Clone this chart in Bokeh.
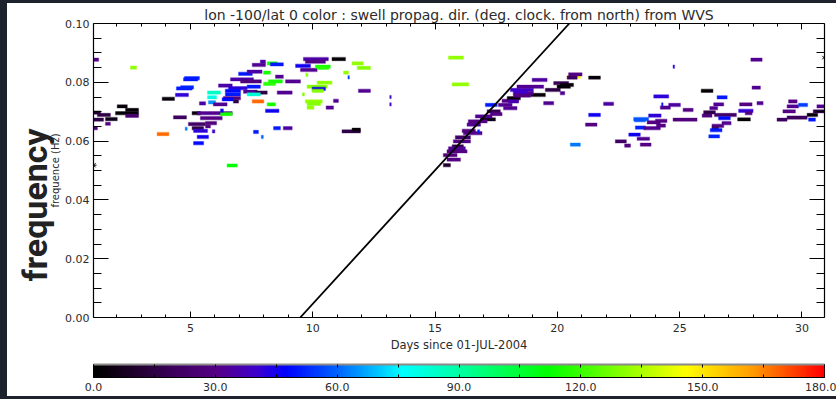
import numpy as np
from bokeh.plotting import figure
from bokeh.models import (LinearAxis, FixedTicker, Title, ColumnDataSource, LinearColorMapper,
                          Spacer, Range1d, PrintfTickFormatter, CustomLabelingPolicy)
from bokeh.layouts import column, row
from bokeh.transform import linear_cmap
from bokeh.embed import file_html
from bokeh.resources import INLINE

# ---------------- data ----------------
title_text = "lon -100/lat 0 color : swell propag. dir. (deg. clock. from north) from WVS"
x_label = "Days since 01-JUL-2004"
y_label = "frequence (Hz)"
big_label = "frequency"

x_major_ticks = [5, 10, 15, 20, 25, 30]
x_minor_ticks = [2, 3, 4, 6, 7, 8, 9, 11, 12, 13, 14, 16, 17, 18, 19, 21, 22, 23, 24, 26, 27, 28, 29]
y_major_ticks = [0.0, 0.02, 0.04, 0.06, 0.08, 0.10]
y_minor_ticks = [0.005, 0.01, 0.015, 0.025, 0.03, 0.035, 0.045, 0.05, 0.055,
                 0.065, 0.07, 0.075, 0.085, 0.09, 0.095]
cb_major_ticks = [0, 30, 60, 90, 120, 150, 180]
cb_minor_ticks = [15, 45, 75, 105, 135, 165]

# swell partitions: start day, end day, peak frequency (Hz), propagation direction (deg)
seg_start = [
    1.04, 2.55, 1.04, 1.20, 1.04, 1.53, 2.01, 1.94, 2.35, 2.35,
    1.53, 1.04, 3.64, 3.85, 4.31, 4.76, 4.72, 4.43, 4.60, 4.39,
    5.70, 5.70, 5.74, 5.37, 5.07, 5.28, 6.23, 5.41, 4.92, 5.62,
    5.07, 5.62, 5.13, 5.90, 4.79, 5.28, 5.13, 6.15, 5.94, 6.23,
    6.50, 9.62, 9.70, 10.79, 8.14, 8.27, 7.53, 7.86, 9.30, 9.50,
    10.11, 10.20, 11.61, 11.82, 11.26, 11.44, 9.72, 6.97, 7.32, 7.99,
    8.48, 6.64, 7.05, 8.19, 7.99, 8.89, 10.18, 6.56, 7.32, 9.77,
    9.98, 9.98, 6.43, 7.17, 7.66, 8.55, 6.43, 7.32, 9.58, 6.35,
    6.30, 6.76, 7.53, 9.70, 9.77, 9.77, 8.14, 10.85, 10.55, 8.07,
    8.40, 8.80, 7.58, 7.90, 11.20, 11.61, 11.87, 13.15, 13.15, 15.55,
    15.70, 15.34, 15.49, 15.34, 15.49, 15.70, 15.55, 15.75, 15.83, 16.16,
    16.74, 16.11, 16.31, 16.86, 16.36, 16.65, 17.13, 17.26, 17.59, 17.06,
    17.74, 17.95, 17.80, 18.08, 18.35, 18.90, 19.51, 19.85, 19.99, 18.97,
    19.44, 20.40, 20.40, 20.46, 21.28, 21.28, 21.15, 20.53, 18.61, 18.20,
    18.20, 18.00, 20.12, 20.12, 21.89, 22.37, 22.75, 22.92, 23.26, 23.39,
    23.12, 23.15, 23.19, 23.53, 23.73, 23.67, 24.01, 24.05, 23.94, 24.21,
    24.55, 24.26, 24.73, 24.73, 25.14, 25.88, 26.53, 26.39, 26.23, 25.98,
    25.92, 26.42, 26.59, 26.73, 26.32, 26.32, 26.25, 26.19, 27.45, 27.96,
    27.91, 28.16, 27.41, 27.68, 27.37, 28.98, 29.39, 29.22, 29.39, 29.45,
    29.86, 30.21, 30.27, 30.61, 30.46,
]
seg_end = [
    1.25, 2.80, 1.33, 1.73, 1.45, 2.01, 2.42, 2.88, 2.88, 2.88,
    1.73, 1.20, 4.12, 4.35, 4.84, 5.37, 5.30, 5.07, 5.13, 4.92,
    6.23, 6.07, 6.03, 5.62, 5.41, 6.71, 6.71, 6.30, 5.62, 6.07,
    5.54, 5.82, 5.70, 6.00, 4.87, 5.74, 5.54, 6.71, 6.50, 6.35,
    6.91, 10.64, 10.52, 11.34, 8.55, 8.80, 8.07, 8.07, 9.91, 10.18,
    10.72, 10.65, 12.07, 12.36, 11.46, 11.50, 9.80, 7.53, 7.93, 8.27,
    8.80, 7.58, 7.90, 8.76, 8.48, 9.50, 10.79, 7.32, 7.86, 10.59,
    10.52, 10.44, 7.05, 7.73, 8.14, 9.16, 7.05, 7.86, 9.66, 7.05,
    6.76, 6.97, 8.00, 10.39, 10.32, 10.05, 8.48, 11.05, 10.85, 8.62,
    8.68, 9.16, 7.78, 7.98, 11.95, 11.95, 12.36, 13.21, 13.21, 16.16,
    16.38, 15.63, 16.04, 15.90, 16.31, 16.16, 16.24, 16.45, 16.45, 16.92,
    16.82, 16.65, 16.86, 17.47, 17.13, 17.33, 17.67, 17.74, 18.15, 17.54,
    18.41, 18.49, 18.35, 19.02, 19.44, 19.51, 20.12, 20.46, 20.53, 19.58,
    19.85, 20.94, 20.81, 21.01, 21.76, 21.76, 21.62, 20.94, 19.02, 18.76,
    18.90, 18.41, 20.30, 20.66, 22.30, 22.82, 22.99, 23.39, 23.77, 23.83,
    23.73, 23.60, 23.60, 24.21, 24.24, 24.21, 24.48, 24.42, 24.55, 24.62,
    25.03, 24.32, 25.71, 24.79, 25.55, 26.36, 26.94, 26.80, 26.55, 26.46,
    26.32, 27.32, 27.07, 27.10, 26.80, 26.59, 26.73, 26.63, 27.96, 28.30,
    28.37, 28.41, 28.00, 27.96, 27.89, 29.39, 30.21, 29.73, 29.86, 29.80,
    30.23, 30.64, 30.55, 30.92, 30.92,
]
seg_freq = [
    .0877, .0850, .0697, .0689, .0673, .0675, .0718, .0695, .0706, .0686,
    .0659, .0644, .0624, .0744, .0681, .0814, .0810, .0779, .0783, .0757,
    .0765, .0749, .0732, .0728, .0695, .0695, .0692, .0678, .0658, .0661,
    .0644, .0650, .0635, .0633, .0642, .0614, .0593, .0789, .0725, .0704,
    .0517, .0879, .0870, .0879, .0864, .0861, .0859, .0870, .0856, .0842,
    .0853, .0849, .0864, .0849, .0833, .0817, .0825, .0829, .0836, .0833,
    .0819, .0810, .0803, .0803, .0795, .0803, .0799, .0780, .0785, .0785,
    .0778, .0771, .0771, .0768, .0765, .0765, .0759, .0759, .0759, .0746,
    .0742, .0735, .0735, .0735, .0727, .0714, .0725, .0737, .0714, .0703,
    .0644, .0644, .0631, .0614, .0633, .0639, .0771, .0750, .0725, .0884,
    .0793, .0518, .0537, .0552, .0565, .0582, .0575, .0599, .0613, .0627,
    .0633, .0635, .0656, .0674, .0667, .0684, .0701, .0692, .0723, .0723,
    .0737, .0746, .0712, .0774, .0785, .0757, .0774, .0797, .0785, .0808,
    .0729, .0819, .0816, .0827, .0816, .0689, .0656, .0588, .0763, .0766,
    .0755, .0735, .0763, .0791, .0727, .0599, .0585, .0622, .0608, .0588,
    .0675, .0671, .0646, .0644, .0687, .0664, .0669, .0653, .0752, .0714,
    .0723, .0725, .0673, .0853, .0706, .0771, .0749, .0725, .0712, .0698,
    .0687, .0689, .0678, .0661, .0652, .0642, .0637, .0616, .0725, .0782,
    .0877, .0729, .0703, .0695, .0674, .0673, .0680, .0701, .0718, .0735,
    .0723, .0689, .0673, .0718, .0701,
]
seg_dir = [
    30, 132, 10, 15, 15, 5, 3, 2, 2, 25,
    30, 30, 168, 3, 20, 52, 50, 50, 52, 42,
    85, 80, 65, 35, 3, 32, 115, 30, 22, 28,
    15, 30, 42, 40, 62, 45, 48, 35, 32, 45,
    112, 35, 30, 2, 115, 50, 32, 35, 45, 32,
    115, 118, 132, 130, 132, 55, 130, 50, 35, 115,
    32, 35, 28, 115, 118, 32, 132, 42, 50, 130,
    45, 130, 48, 32, 15, 32, 50, 82, 130, 30,
    48, 15, 168, 132, 130, 132, 115, 32, 32, 45,
    50, 34, 50, 60, 15, 3, 32, 40, 40, 132,
    132, 10, 30, 28, 30, 15, 32, 30, 22, 32,
    50, 28, 32, 5, 30, 32, 18, 30, 32, 50,
    30, 3, 32, 40, 32, 3, 15, 18, 2, 34,
    32, 145, 20, 30, 3, 45, 30, 62, 32, 40,
    30, 36, 32, 3, 34, 22, 30, 45, 32, 30,
    58, 58, 52, 32, 42, 30, 30, 30, 42, 32,
    34, 50, 28, 42, 30, 2, 50, 32, 32, 15,
    28, 22, 48, 32, 30, 15, 50, 52, 30, 32,
    32, 32, 42, 30, 2, 20, 20, 30, 32, 30,
    55, 3, 50, 32, 15,
]
assert len(seg_start) == len(seg_end) == len(seg_freq) == len(seg_dir)

# dispersion line (arrival of swell from a single source)
line_days = [9.49, 20.49]
line_freq = [0.0, 0.10]

# isolated marks on the frame edges
star_day = [1.04]
star_freq = [0.0518]
cross_day = [30.90]
cross_freq = [0.0884]

# colour table (direction in degrees -> RGB)
ct_pos = [0, 8, 20, 30, 40, 47, 60, 76, 92, 112, 122, 146, 162, 180]
ct_r = [0, 25, 62, 85, 62, 0, 0, 0, 0, 0, 70, 255, 255, 255]
ct_g = [0, 0, 0, 0, 0, 0, 100, 255, 255, 255, 255, 255, 160, 0]
ct_b = [0, 35, 95, 132, 205, 255, 255, 255, 150, 0, 0, 0, 0, 0]

# ---------------- styling ----------------
DARK = "#1d222c"
FONT = "DejaVu Sans"
TXT = "#2b2b2b"

grid = np.linspace(0, 180, 256)
palette = ["#%02x%02x%02x" % (int(round(r)), int(round(g)), int(round(b)))
           for r, g, b in zip(np.interp(grid, ct_pos, ct_r),
                              np.interp(grid, ct_pos, ct_g),
                              np.interp(grid, ct_pos, ct_b))]
mapper = LinearColorMapper(palette=palette, low=0, high=180)

no_labels = CustomLabelingPolicy(code="""
for (const i of indices)
  indices.unset(i)
""")

p = figure(width=829, height=354, x_range=Range1d(1.04, 30.92), y_range=Range1d(0.0, 0.10),
           output_backend="svg", toolbar_location=None,
           x_axis_location=None, y_axis_location=None,
           min_border_left=86, min_border_right=12, min_border_top=19, min_border_bottom=40,
           background_fill_color="white", border_fill_color="white", outline_line_color=None)
p.grid.visible = False


def style_axis(ax, tick_in, minor_in, labels=True):
    ax.major_tick_in = tick_in
    ax.major_tick_out = 0
    ax.minor_tick_in = minor_in
    ax.minor_tick_out = 0
    ax.axis_line_color = "black"
    ax.axis_line_width = 1.2
    ax.major_tick_line_color = "black"
    ax.minor_tick_line_color = "black"
    ax.major_tick_line_width = 1
    ax.minor_tick_line_width = 1
    if labels:
        ax.major_label_text_font = FONT
        ax.major_label_text_font_size = "11px"
        ax.major_label_text_color = TXT
    else:
        ax.major_label_policy = no_labels
        ax.major_label_text_font_size = "0px"
        ax.major_label_standoff = 0


xticker = FixedTicker(ticks=x_major_ticks, minor_ticks=x_minor_ticks)
yticker = FixedTicker(ticks=y_major_ticks, minor_ticks=y_minor_ticks)

xb = LinearAxis(ticker=xticker, axis_label=x_label)
style_axis(xb, 6, 3)
xb.major_label_standoff = 6
xb.axis_label_standoff = 3
xb.axis_label_text_font = FONT
xb.axis_label_text_font_style = "normal"
xb.axis_label_text_font_size = "11.5px"
xb.axis_label_text_color = TXT
p.add_layout(xb, "below")

xt = LinearAxis(ticker=xticker)
style_axis(xt, 6, 3, labels=False)
p.add_layout(xt, "above")

yl = LinearAxis(ticker=yticker, axis_label=y_label, formatter=PrintfTickFormatter(format="%.2f"))
style_axis(yl, 15, 8)
yl.major_label_standoff = 4
yl.axis_label_standoff = 1
yl.axis_label_text_font = FONT
yl.axis_label_text_font_style = "normal"
yl.axis_label_text_font_size = "10px"
yl.axis_label_text_color = TXT
p.add_layout(yl, "left")

yr = LinearAxis(ticker=yticker)
style_axis(yr, 15, 8, labels=False)
p.add_layout(yr, "right")

p.add_layout(Title(text=title_text, align="center", standoff=2, text_font=FONT,
                   text_font_size="14px", text_font_style="normal", text_color=TXT), "above")
p.add_layout(Title(text=big_label, align="left", offset=36, standoff=-14, text_font="Roboto",
                   text_font_size="34px", text_font_style="bold", text_color="#222222"), "left")

src = ColumnDataSource(dict(t0=seg_start, t1=seg_end, f=seg_freq, d=seg_dir))
cmap = linear_cmap("d", palette, 0, 180)
p.hbar(y="f", left="t0", right="t1", height=0.0011, source=src,
       fill_color=cmap, line_color=cmap, line_alpha=0.35, line_width=1.2)

p.line(line_days, line_freq, line_color="black", line_width=1.8)
p.scatter(star_day, star_freq, marker="asterisk", size=6, line_color="black", line_width=1)
p.scatter(cross_day, cross_freq, marker="x", size=5, line_color="black", line_width=1)

# ---------------- colour bar ----------------
p2 = figure(width=829, height=39, x_range=Range1d(0, 180), y_range=Range1d(0, 1),
            output_backend="svg", toolbar_location=None,
            x_axis_location=None, y_axis_location=None,
            min_border_left=86, min_border_right=12, min_border_top=7, min_border_bottom=19,
            background_fill_color="white", border_fill_color="white",
            outline_line_color="black", outline_line_width=1)
p2.grid.visible = False
p2.image(image=[np.linspace(0, 180, 731).reshape(1, -1)], x=0, y=0, dw=180, dh=1,
         color_mapper=mapper)

cbticker = FixedTicker(ticks=cb_major_ticks, minor_ticks=cb_minor_ticks)
cb = LinearAxis(ticker=cbticker, formatter=PrintfTickFormatter(format="%.1f"))
style_axis(cb, 3, 3)
cb.major_label_standoff = 5
p2.add_layout(cb, "below")
ct = LinearAxis(ticker=cbticker)
style_axis(ct, 3, 3, labels=False)
ct.axis_line_color = "#8a8a8a"
ct.axis_line_width = 2
p2.add_layout(ct, "above")

layout = row(
    Spacer(width=7, height=399, styles={"background-color": DARK}),
    column(
        Spacer(width=829, height=3, styles={"background-color": DARK}),
        p,
        p2,
        Spacer(width=829, height=3, styles={"background-color": DARK}),
    ),
)

open("out.html", "w").write(file_html(layout, INLINE))
